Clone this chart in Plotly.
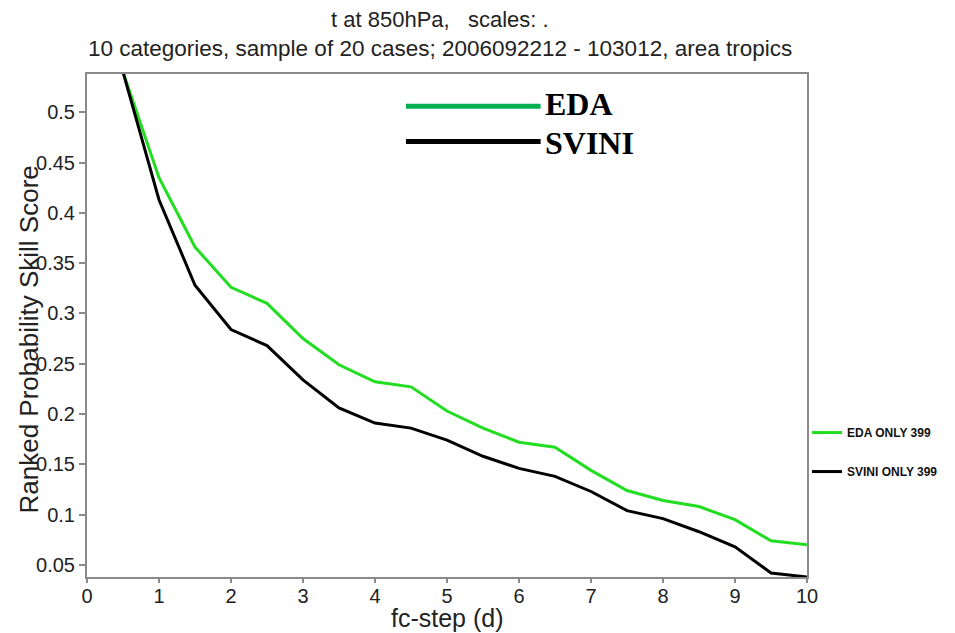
import plotly.graph_objects as go

steps = [0.5, 1, 1.5, 2, 2.5, 3, 3.5, 4, 4.5, 5, 5.5, 6, 6.5, 7, 7.5, 8, 8.5, 9, 9.5, 10]
eda = [0.540, 0.435, 0.366, 0.326, 0.310, 0.275, 0.249, 0.232, 0.227, 0.203, 0.186, 0.172,
       0.167, 0.144, 0.124, 0.114, 0.108, 0.095, 0.074, 0.070]
svini = [0.540, 0.413, 0.328, 0.284, 0.268, 0.234, 0.206, 0.191, 0.186, 0.174, 0.158, 0.146,
         0.138, 0.123, 0.104, 0.096, 0.083, 0.068, 0.042, 0.038]
series_names = ["EDA ONLY 399", "SVINI ONLY 399"]
inset_labels = ["EDA", "SVINI"]
x_ticks = list(range(0, 11))
y_ticks = [0.05, 0.1, 0.15, 0.2, 0.25, 0.3, 0.35, 0.4, 0.45, 0.5]
y_ticklabels = ["0.05", "0.1", "0.15", "0.2", "0.25", "0.3", "0.35", "0.4", "0.45", "0.5"]

FONT = "Liberation Sans, Arial, sans-serif"
GREEN = "#22dd22"

fig = go.Figure()
fig.add_trace(go.Scatter(x=steps, y=eda, mode="lines", name="<b>%s</b>" % series_names[0],
                         line=dict(color=GREEN, width=3), legendgroup="a"))
fig.add_trace(go.Scatter(x=steps, y=svini, mode="lines", name="<b>%s</b>" % series_names[1],
                         line=dict(color="black", width=3), legendgroup="b"))

axis_common = dict(showline=True, linecolor="#8a8a8a", linewidth=2, mirror=True,
                   showgrid=False, zeroline=False, ticks="outside", tickcolor="#8a8a8a",
                   tickwidth=1.5, tickfont=dict(family=FONT, size=20, color="#222"))

fig.update_xaxes(range=[0, 10], tickvals=x_ticks, ticklen=4, ticklabelstandoff=-4, **axis_common)
fig.update_yaxes(range=[0.038, 0.538], tickvals=y_ticks, ticktext=y_ticklabels, ticklen=6,
                 **axis_common)

# axis titles placed as in the original (y title overlaps tick labels there)
fig.add_annotation(xref="paper", yref="paper", x=-59 / 720, y=0.5 - 14 / 503,
                   text="Ranked Probability Skill Score", textangle=-90, showarrow=False,
                   xanchor="center", yanchor="middle",
                   font=dict(family=FONT, size=26, color="#222"))
fig.add_annotation(xref="paper", yref="paper", x=0.5, y=-41 / 503,
                   text="fc-step (d)", showarrow=False, xanchor="center", yanchor="middle",
                   font=dict(family=FONT, size=25, color="#222"))

# inset legend drawn in paper coordinates
for i, (lab, col) in enumerate(zip(inset_labels, ["#00b050", "black"])):
    yp = [0.936, 0.866][i]
    ty = [0.940, 0.862][i]
    fig.add_shape(type="line", xref="paper", yref="paper", x0=0.443, x1=0.63, y0=yp, y1=yp,
                  line=dict(color=col, width=5))
    fig.add_annotation(xref="paper", yref="paper", x=0.633, y=ty, text="<b>%s</b>" % lab,
                       showarrow=False, xanchor="left", yanchor="middle",
                       font=dict(family="Liberation Serif, Times New Roman, serif", size=32, color="black"))

fig.add_annotation(xref="paper", yref="paper", x=0.49, y=1.0 + 55 / 503, text="t at 850hPa,   scales: .",
                   showarrow=False, xanchor="center", yanchor="middle",
                   font=dict(family=FONT, size=22, color="#222"))
fig.add_annotation(xref="paper", yref="paper", x=0.49, y=1.0 + 26 / 503,
                   text="10 categories, sample of 20 cases; 2006092212 - 103012, area tropics",
                   showarrow=False, xanchor="center", yanchor="middle",
                   font=dict(family=FONT, size=22.5, color="#222"))

fig.update_layout(
    width=947, height=625,
    margin=dict(l=79, r=148, t=66, b=56),
    paper_bgcolor="white", plot_bgcolor="white",
    showlegend=True,
    legend=dict(x=1.0, y=0.316, xanchor="left", yanchor="top", tracegroupgap=20,
                font=dict(family=FONT, size=12, color="#111"),
                bgcolor="rgba(0,0,0,0)"),
)

fig.write_html("out.html")
